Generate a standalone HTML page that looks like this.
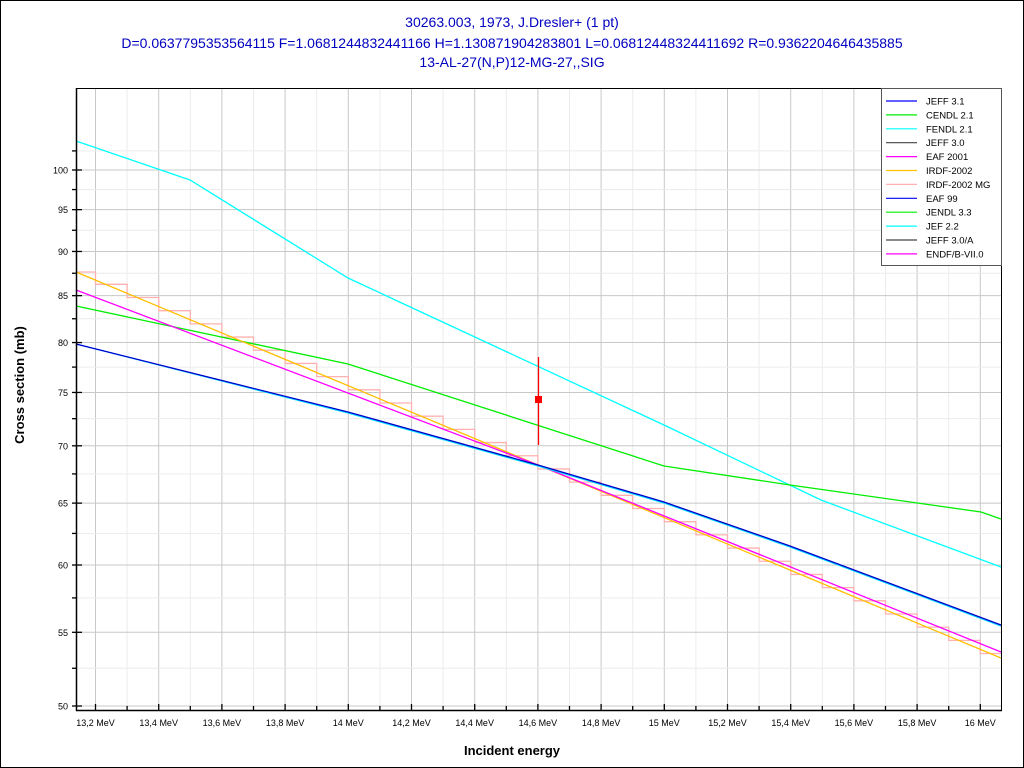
<!DOCTYPE html>
<html><head><meta charset="utf-8"><style>
html,body{margin:0;padding:0;background:#fff}
svg{display:block;font-family:"Liberation Sans",Arial,sans-serif}
</style></head><body>
<svg width="1024" height="768" xmlns="http://www.w3.org/2000/svg">
<rect x="0.5" y="0.5" width="1023" height="767" fill="#fff" stroke="#000"/>
<g fill="#0000c0" font-size="14" text-anchor="middle">
<text x="512" y="27">30263.003, 1973, J.Dresler+ (1 pt)</text>
<text x="512" y="48">D=0.0637795353564115 F=1.0681244832441166 H=1.130871904283801 L=0.06812448324411692 R=0.9362204646435885</text>
<text x="512" y="67">13-AL-27(N,P)12-MG-27,,SIG</text>
</g>
<g id="grid"></g>
<g id="curves" fill="none" stroke-width="1.3"></g>
<rect x="76.5" y="88.5" width="925" height="622" fill="none" stroke="#000"/>
<line x1="76.5" y1="88" x2="76.5" y2="711" stroke="#000" stroke-width="1.5"/>
<line x1="76" y1="710.5" x2="1002" y2="710.5" stroke="#000" stroke-width="1.5"/>
<g id="ticks"></g>
<line x1="538.5" y1="357" x2="538.5" y2="445" stroke="#f00" stroke-width="1.3"/>
<rect x="535" y="396" width="7" height="7" fill="#f00"/>
<text x="24" y="385" font-size="13" font-weight="bold" text-anchor="middle" transform="rotate(-90 24 385)">Cross section (mb)</text>
<text x="512" y="755" font-size="13" font-weight="bold" text-anchor="middle">Incident energy</text>
<rect x="881.5" y="88.5" width="120" height="177" fill="#fff" stroke="#555"/>
<g id="legend" font-size="9.5"></g>
</svg>
<script>
const NS="http://www.w3.org/2000/svg";
function el(p,t,a,txt){const e=document.createElementNS(NS,t);for(const k in a)e.setAttribute(k,a[k]);if(txt!=null)e.textContent=txt;document.getElementById(p).appendChild(e);return e;}
const X=E=>95.5+(E-13.2)*316;
const Y=v=>706-773.3*Math.log(v/50);
for(let i=0;i<=29;i++){const E=13.2+i*0.1-0.1;const x=X(E);if(x<77||x>1000)continue;
 const major=Math.round(E*10)%2==0;
 el("grid","line",{x1:x,y1:89,x2:x,y2:710,stroke:major?"#c8c8c8":"#ececec"});
 el("ticks","line",{x1:x,y1:major?704:706,x2:x,y2:710,stroke:"#000","stroke-width":1.3});
 let lab=E.toFixed(1).replace(".",",");if(lab.endsWith(",0"))lab=lab.slice(0,-2);
 if(major)el("ticks","text",{x:x,y:726,"font-size":9,"text-anchor":"middle"},lab+" MeV");}
for(let v=50;v<=102.5;v+=2.5){const y=Y(v);const major=v%5==0;
 el("grid","line",{x1:77,y1:y,x2:1001,y2:y,stroke:major?"#c8c8c8":"#ececec"});
 el("ticks","line",{x1:72,y1:y,x2:major?82:77,y2:y,stroke:"#000","stroke-width":1.3});
 if(major)el("ticks","text",{x:68,y:y+3.5,"font-size":9,"text-anchor":"end"},v);}
function pl(pts,c,w){el("curves","polyline",{points:pts.map(p=>p.join(",")).join(" "),stroke:c,"stroke-width":w||1.3});}
const orange=x=>272+(x-76)*(386/925);
let s=[];let edges=[76];for(let x=95.5;x<1001;x+=31.6)edges.push(x);edges.push(1001);
for(let i=0;i<edges.length-1;i++){const y=orange(edges[i]+(i==0?0:10));s.push([edges[i],y],[edges[i+1],y]);}
pl(s,"#ffb0b0",1.3);
pl([[76,141],[190,180],[348,278],[664,425],[821,500],[1001,567]],"#00ffff");
pl([[76,306],[348,364],[664,466],[790,485],[981,512],[1001,519]],"#00ee00");
pl([[76,272],[538,465],[1001,658]],"#ffc000");
pl([[76,290],[538,465],[1001,652]],"#ff00ff");
pl([[76,344],[348,413],[538,466],[664,503],[790,547],[1001,626]],"#00e0ff");
pl([[76,344],[348,412],[538,465],[664,502],[790,546],[1001,625]],"#0000ff");
pl([[76,344],[348,412],[538,465],[664,502],[790,546],[1001,625]],"#000090",0.6);
const L=[["JEFF 3.1","#0000ff"],["CENDL 2.1","#00ee00"],["FENDL 2.1","#00ffff"],["JEFF 3.0","#444"],["EAF 2001","#ff00ff"],["IRDF-2002","#ffc000"],["IRDF-2002 MG","#ffb0b0"],["EAF 99","#0000ff"],["JENDL 3.3","#00ee00"],["JEF 2.2","#00ffff"],["JEFF 3.0/A","#444"],["ENDF/B-VII.0","#ff00ff"]];
L.forEach((l,i)=>{const y=101+i*13.9;el("legend","line",{x1:886,y1:y,x2:917,y2:y,stroke:l[1],"stroke-width":1.2});el("legend","text",{x:926,y:y+3.5},l[0]);});
</script>
</body></html>
